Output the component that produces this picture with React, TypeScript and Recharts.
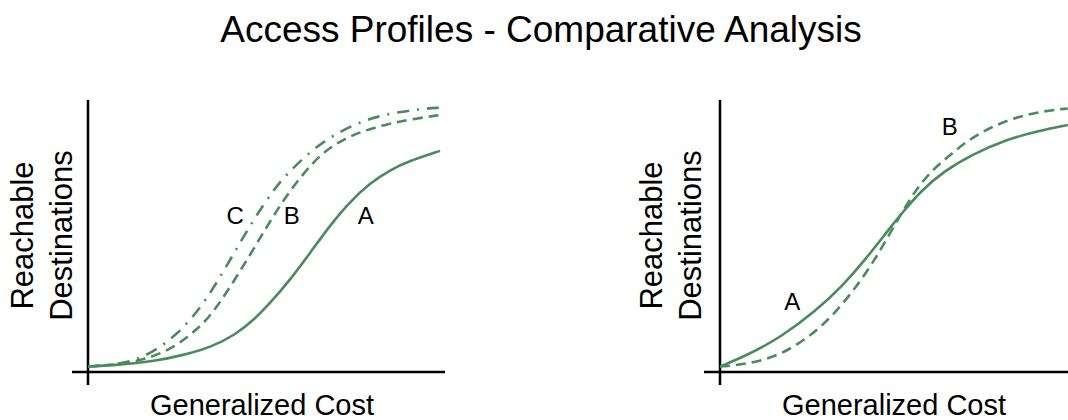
import React from 'react';
import { LineChart, Line, XAxis, YAxis, ReferenceLine, ReferenceDot } from 'recharts';

const FONT = '"Liberation Sans", Arial, Helvetica, sans-serif';
const GREEN = '#4b8b5b';

const TITLE = 'Access Profiles - Comparative Analysis';
const X_LABEL = 'Generalized Cost';
const Y_LABEL_LINES = ['Reachable', 'Destinations'];

// Left panel: profiles A (solid), B (dashed), C (dash-dot)
const leftCostA = [0, 0.85, 1.82, 2.76, 3.52, 4.18, 4.74, 5.17, 5.74, 6.31, 6.88, 7.44, 8.01, 8.58, 9.15, 10];
const leftReachA = [0.02, 0.026, 0.038, 0.063, 0.093, 0.136, 0.195, 0.253, 0.338, 0.438, 0.54, 0.626, 0.694, 0.743, 0.777, 0.813];

const leftCostB = [0, 0.91, 1.76, 2.47, 3.04, 3.47, 4.08, 4.6, 5.08, 5.55, 6.11, 6.68, 7.27, 7.9, 8.55, 9.23, 10];
const leftReachB = [0.02, 0.028, 0.051, 0.092, 0.151, 0.203, 0.32, 0.43, 0.534, 0.632, 0.73, 0.809, 0.857, 0.89, 0.913, 0.93, 0.945];

const leftCostC = [0, 0.63, 1.19, 1.82, 2.56, 3.23, 3.75, 4.24, 4.74, 5.28, 5.68, 6.36, 6.97, 7.73, 8.49, 9.43, 10];
const leftReachC = [0.02, 0.026, 0.037, 0.07, 0.14, 0.241, 0.348, 0.458, 0.567, 0.672, 0.732, 0.816, 0.871, 0.92, 0.949, 0.967, 0.972];

// Right panel: profiles A (solid), B (dashed)
const rightCostA = [0, 0.8, 1.75, 2.7, 3.46, 4.12, 4.78, 5.11, 5.72, 6.38, 7.14, 8.09, 9.03, 9.88];
const rightReachA = [0.02, 0.063, 0.13, 0.222, 0.314, 0.412, 0.522, 0.575, 0.668, 0.74, 0.798, 0.853, 0.886, 0.908];

const rightCostB = [0, 0.8, 1.75, 2.61, 3.27, 3.84, 4.4, 4.88, 5.43, 5.91, 6.48, 7.05, 7.71, 8.47, 9.22, 9.88];
const rightReachB = [0.02, 0.029, 0.063, 0.136, 0.216, 0.308, 0.412, 0.522, 0.645, 0.728, 0.792, 0.853, 0.902, 0.939, 0.96, 0.969];

// Curve annotations
const leftTags = ['C', 'B', 'A'];
const leftTagCost = [4.18, 5.79, 7.89];
const leftTagReach = [0.577, 0.577, 0.575];
const rightTags = ['A', 'B'];
const rightTagCost = [2.05, 6.53];
const rightTagReach = [0.258, 0.904];

const zip = (xs: number[], ys: number[]) => xs.map((x, i) => ({ cost: x, reach: ys[i] }));
const tagList = (t: string[], xs: number[], ys: number[]) => t.map((s, i) => ({ text: s, cost: xs[i], reach: ys[i] }));

type Series = { name: string; data: { cost: number; reach: number }[]; dash?: string };

const leftSeries: Series[] = [
  { name: 'A', data: zip(leftCostA, leftReachA) },
  { name: 'B', data: zip(leftCostB, leftReachB), dash: '10 6' },
  { name: 'C', data: zip(leftCostC, leftReachC), dash: '12 8 2 8' },
];
const rightSeries: Series[] = [
  { name: 'A', data: zip(rightCostA, rightReachA) },
  { name: 'B', data: zip(rightCostB, rightReachB), dash: '10 6' },
];

type PanelProps = {
  left: number;
  series: Series[];
  tags: { text: string; cost: number; reach: number }[];
  margin: { left: number; right: number; top: number; bottom: number };
  xDomain: [number, number];
  xLabelX: number;
  yLabelX: [number, number];
};

const W = 534;
const H = 420;

function Panel({ left, series, tags, margin, xDomain, xLabelX, yLabelX }: PanelProps) {
  return (
    <div style={{ position: 'absolute', left, top: 0, width: W, height: H }}>
      <LineChart width={W} height={H} margin={margin}>
        <XAxis type="number" dataKey="cost" domain={xDomain} allowDataOverflow hide />
        <YAxis type="number" dataKey="reach" domain={[-0.0478, 1]} allowDataOverflow hide />
        <ReferenceLine x={0} stroke="#000" strokeWidth={2.5} />
        <ReferenceLine y={0} stroke="#000" strokeWidth={2.5} />
        {series.map((s) => (
          <Line
            key={s.name}
            data={s.data}
            dataKey="reach"
            type="basis"
            stroke={GREEN}
            strokeWidth={2.6}
            strokeDasharray={s.dash}
            dot={false}
            activeDot={false}
            isAnimationActive={false}
          />
        ))}
        {tags.map((t) => (
          <ReferenceDot
            key={t.text}
            x={t.cost}
            y={t.reach}
            r={0}
            fill="none"
            stroke="none"
            label={{ value: t.text, position: 'center', fill: '#000', fontSize: 24, fontFamily: FONT }}
          />
        ))}
        <text x={xLabelX} y={415} textAnchor="middle" fontSize={29} fontFamily={FONT} fill="#000">
          {X_LABEL}
        </text>
        {Y_LABEL_LINES.map((line, i) => (
          <text
            key={line}
            transform={`translate(${yLabelX[i]},235.5) rotate(-90)`}
            textAnchor="middle"
            fontSize={31}
            fontFamily={FONT}
            fill="#000"
          >
            {line}
          </text>
        ))}
      </LineChart>
    </div>
  );
}

export default function App() {
  return (
    <div style={{ position: 'absolute', left: 0, top: 0, width: 1068, height: 420, background: '#fff', overflow: 'hidden' }}>
      <svg width={1068} height={60} style={{ position: 'absolute', left: 0, top: 0 }}>
        <text x={541} y={41.5} textAnchor="middle" fontSize={37} fontFamily={FONT} fill="#000">
          {TITLE}
        </text>
      </svg>
      <Panel
        left={0}
        series={leftSeries}
        tags={tagList(leftTags, leftTagCost, leftTagReach)}
        margin={{ left: 72, right: 89, top: 100, bottom: 35 }}
        xDomain={[-0.4545, 10.142]}
        xLabelX={262}
        yLabelX={[32.5, 71.7]}
      />
      <Panel
        left={534}
        series={rightSeries}
        tags={tagList(rightTags, rightTagCost, rightTagReach)}
        margin={{ left: 170, right: 0, top: 100, bottom: 35 }}
        xDomain={[-0.4545, 9.886]}
        xLabelX={360}
        yLabelX={[128.3, 167]}
      />
    </div>
  );
}
